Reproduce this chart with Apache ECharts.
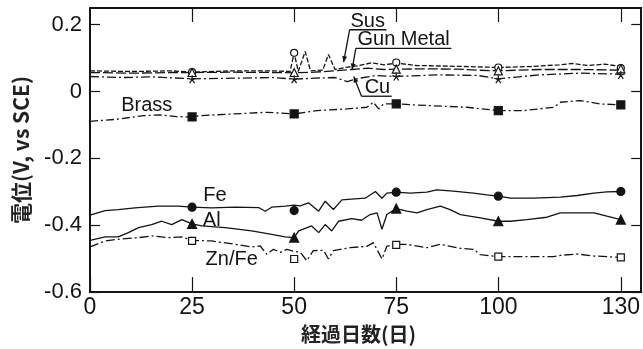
<!DOCTYPE html>
<html><head><meta charset="utf-8">
<script src="https://cdn.jsdelivr.net/npm/echarts@6/dist/echarts.min.js"></script>
<style>html,body{margin:0;padding:0;background:#fff}#c{width:643px;height:349px}</style>
</head><body><div id="c"></div>
<script>
// ---- data (day, potential V vs SCE) ----
const xTickVals = [0, 25, 50, 75, 100, 130];
const yTickVals = [-0.6, -0.4, -0.2, 0, 0.2];
const markDays = [25, 50, 75, 100, 130];

const susDays = [0, 10, 20, 25, 35, 45, 49, 50, 51, 52.7, 54, 57, 58.4, 60, 62.5, 66, 69, 72, 75, 80, 88, 95, 100, 108, 115, 118, 122, 126, 130];
const susVals = [0.062, 0.060, 0.062, 0.058, 0.062, 0.062, 0.060, 0.116, 0.060, 0.120, 0.062, 0.064, 0.111, 0.066, 0.072, 0.078, 0.086, 0.080, 0.085, 0.078, 0.076, 0.074, 0.072, 0.075, 0.080, 0.084, 0.078, 0.082, 0.075];
const susMarks = [0.058, 0.116, 0.087, 0.072, 0.070];

const gunDays = [0, 10, 20, 25, 35, 45, 50, 55, 60, 64, 68, 72, 75, 82, 90, 95, 100, 110, 120, 130];
const gunVals = [0.057, 0.055, 0.057, 0.057, 0.058, 0.057, 0.056, 0.058, 0.062, 0.066, 0.070, 0.066, 0.067, 0.068, 0.067, 0.064, 0.062, 0.066, 0.066, 0.064];
const gunMarks = [0.057, 0.057, 0.067, 0.062, 0.068];

const cuDays = [0, 8, 15, 25, 35, 45, 50, 55, 60, 63, 66, 70, 75, 85, 95, 100, 110, 120, 130];
const cuVals = [0.045, 0.042, 0.044, 0.038, 0.040, 0.042, 0.037, 0.040, 0.042, 0.030, 0.040, 0.048, 0.045, 0.050, 0.048, 0.038, 0.050, 0.055, 0.052];
const cuMarks = [0.037, 0.037, 0.045, 0.037, 0.050];

const brDays = [0, 6.5, 13.1, 17.2, 21.2, 25, 27, 35.1, 43.3, 50, 55.5, 62.9, 67.8, 69.4, 70.7, 71.9, 75, 83, 92.3, 100, 106.2, 113.6, 115.2, 120.1, 125, 130];
const brVals = [-0.089, -0.083, -0.072, -0.070, -0.075, -0.076, -0.072, -0.067, -0.062, -0.067, -0.057, -0.052, -0.047, -0.032, -0.052, -0.037, -0.037, -0.042, -0.047, -0.057, -0.057, -0.047, -0.032, -0.027, -0.037, -0.040];
const brMarks = [-0.076, -0.067, -0.037, -0.057, -0.040];

const feDays = [0, 3.7, 6.9, 11, 16.7, 21.6, 25, 29.8, 35.5, 41.3, 42.9, 44.5, 47.8, 50, 51.5, 53.5, 56, 57.6, 59.6, 61.7, 64, 67.4, 69.9, 71.5, 72.7, 75, 78.4, 82.5, 84.9, 89, 93.9, 97.2, 100, 103, 108.7, 115.2, 119.3, 123.4, 126.6, 130];
const feVals = [-0.370, -0.356, -0.353, -0.348, -0.343, -0.343, -0.346, -0.348, -0.346, -0.347, -0.358, -0.346, -0.343, -0.340, -0.342, -0.333, -0.358, -0.328, -0.353, -0.324, -0.322, -0.319, -0.299, -0.319, -0.304, -0.301, -0.304, -0.301, -0.294, -0.298, -0.304, -0.309, -0.313, -0.319, -0.319, -0.316, -0.311, -0.304, -0.300, -0.299];
const feMarks = [-0.346, -0.356, -0.301, -0.313, -0.299];

const alDays = [0, 3.7, 6.9, 9.4, 11.9, 15.1, 17.6, 20, 22.5, 25, 27.4, 33.1, 39.6, 44.5, 47.8, 50, 51.1, 54.3, 56, 57.6, 59.2, 60.9, 64.1, 66.5, 68.6, 70.3, 71.5, 72.7, 75, 77.6, 80.1, 82.5, 85.8, 88.2, 90.7, 95.6, 100, 103, 107, 111.9, 115.2, 123.4, 126.6, 130];
const alVals = [-0.445, -0.435, -0.435, -0.422, -0.407, -0.398, -0.388, -0.398, -0.383, -0.396, -0.402, -0.407, -0.417, -0.427, -0.435, -0.437, -0.417, -0.402, -0.422, -0.398, -0.417, -0.388, -0.380, -0.385, -0.368, -0.363, -0.412, -0.368, -0.350, -0.358, -0.363, -0.353, -0.343, -0.353, -0.368, -0.378, -0.388, -0.388, -0.383, -0.376, -0.363, -0.363, -0.373, -0.383];
const alMarks = [-0.396, -0.437, -0.350, -0.388, -0.383];

const znDays = [0, 3.7, 6.9, 11.9, 15.1, 19.2, 22.5, 25, 29.8, 35.5, 39.6, 41.7, 43.3, 44.9, 46.6, 48.2, 50, 51.5, 53.1, 54.7, 57.2, 58.4, 59.6, 63.7, 67.8, 69.4, 71.5, 72.7, 75, 77.6, 82.5, 85.8, 90.7, 93.9, 95.6, 100, 107, 113.5, 115.2, 119.3, 123.4, 130];
const znVals = [-0.465, -0.447, -0.442, -0.437, -0.432, -0.437, -0.435, -0.445, -0.447, -0.457, -0.465, -0.462, -0.487, -0.472, -0.481, -0.472, -0.478, -0.481, -0.506, -0.476, -0.475, -0.501, -0.476, -0.467, -0.463, -0.452, -0.501, -0.463, -0.457, -0.457, -0.467, -0.457, -0.469, -0.472, -0.488, -0.494, -0.494, -0.494, -0.490, -0.486, -0.492, -0.496];
const znMarks = [-0.447, -0.501, -0.459, -0.494, -0.496];

const xName = '経過日数(日)';
const yName = '電位(V, vs SCE)';
// label anchors in data space [day, V]
const labels = [
  {t: 'Sus', at: [68.0, 0.210]},
  {t: 'Gun Metal', at: [76.8, 0.155]},
  {t: 'Cu', at: [70.4, 0.012]},
  {t: 'Brass', at: [13.9, -0.043]},
  {t: 'Fe', at: [30.6, -0.310]},
  {t: 'Al', at: [29.8, -0.387]},
  {t: 'Zn/Fe', at: [34.7, -0.502]}
];
const underlines = [[[63.6, 0.185], [72.6, 0.185]], [[65.1, 0.129], [88.5, 0.129]], [[66.5, -0.014], [73.9, -0.014]]];
const leaders = [[[63.6, 0.185], [62.1, 0.088]], [[65.1, 0.129], [64.2, 0.066]], [[66.5, -0.014], [64.6, 0.045]]];

// ---- chart ----
const INK = '#141414';
const zip = (a, b) => a.map((v, i) => [v, b[i]]);
const star = 'path://M0,-10L0,0M0,0L9.5,-3.1M0,0L5.9,8.1M0,0L-5.9,8.1M0,0L-9.5,-3.1';

function lineSeries(name, days, vals, dash) {
  return {type: 'line', name: name, data: zip(days, vals), showSymbol: false, symbol: 'none', smooth: false,
    lineStyle: {color: INK, width: 1.3, type: dash}, z: 2, silent: true, animation: false};
}
function markSeries(name, vals, symbol, size, filled) {
  return {type: 'scatter', name: name + ' pts', data: zip(markDays, vals), symbol: symbol, symbolSize: size,
    itemStyle: {color: filled ? INK : '#fff', borderColor: INK, borderWidth: 1.2, opacity: 1}, z: 5, silent: true, animation: false};
}

const chart = echarts.init(document.getElementById('c'), null, {renderer: 'canvas'});
const axisLine = {show: true, onZero: false, lineStyle: {color: INK, width: 2}};
chart.setOption({
  animation: false,
  backgroundColor: '#fff',
  grid: {left: 90, right: 1, top: 8, bottom: 54},
  xAxis: [
    {type: 'value', min: 0, max: 135, position: 'bottom', axisLine: axisLine,
      axisTick: {inside: true, length: 15, customValues: xTickVals, lineStyle: {color: INK, width: 1.2}},
      axisLabel: {customValues: xTickVals, fontFamily: 'Liberation Sans Narrow, Liberation Sans, Arial', fontSize: 23, color: INK, margin: 4},
      splitLine: {show: false},
      name: xName, nameLocation: 'middle', nameGap: 27,
      nameTextStyle: {fontFamily: 'Noto Sans CJK JP', fontSize: 20, fontWeight: 'bold', color: '#222', padding: [0, 14, 0, 0]}},
    {type: 'value', min: 0, max: 135, position: 'top', axisLine: axisLine,
      axisTick: {inside: true, length: 14, customValues: [25, 50, 75, 100, 130], lineStyle: {color: INK, width: 1.2}},
      axisLabel: {show: false}, splitLine: {show: false}}
  ],
  yAxis: [
    {type: 'value', min: -0.6, max: 0.25, position: 'left', axisLine: axisLine,
      axisTick: {inside: true, length: 10, customValues: yTickVals, lineStyle: {color: INK, width: 1.2}},
      axisLabel: {customValues: yTickVals, fontFamily: 'Liberation Sans, Arial', fontSize: 22, color: INK, margin: 8},
      splitLine: {show: false},
      name: yName, nameLocation: 'middle', nameGap: 58,
      nameTextStyle: {fontFamily: 'Noto Sans CJK JP', fontSize: 21, fontWeight: 'bold', color: '#222'}},
    {type: 'value', min: -0.6, max: 0.25, position: 'right', axisLine: axisLine,
      axisTick: {inside: true, length: 10, customValues: yTickVals, lineStyle: {color: INK, width: 1.2}},
      axisLabel: {show: false}, splitLine: {show: false}}
  ],
  series: [
    lineSeries('Sus', susDays, susVals, [5, 2]),
    lineSeries('Gun Metal', gunDays, gunVals, [10, 3]),
    lineSeries('Cu', cuDays, cuVals, [9, 3, 2, 3]),
    lineSeries('Brass', brDays, brVals, [8, 3, 2, 3]),
    lineSeries('Fe', feDays, feVals, 'solid'),
    lineSeries('Al', alDays, alVals, 'solid'),
    lineSeries('Zn/Fe', znDays, znVals, [9, 3, 2, 3]),
    markSeries('Sus', susMarks, 'circle', 7, false),
    markSeries('Gun Metal', gunMarks, 'triangle', 8, false),
    markSeries('Cu', cuMarks, star, 8, true),
    markSeries('Brass', brMarks, 'rect', 8, true),
    markSeries('Fe', feMarks, 'circle', 8, true),
    markSeries('Al', alMarks, 'triangle', 9, true),
    markSeries('Zn/Fe', znMarks, 'rect', 7, false)
  ]
});

const P = (p) => chart.convertToPixel({xAxisIndex: 0, yAxisIndex: 0}, p);
const g = [];
labels.forEach(l => {
  const p = P(l.at);
  g.push({type: 'text', silent: true, z: 10, style: {text: l.t, x: p[0], y: p[1], fill: INK,
    font: '20px "Liberation Sans", Arial, sans-serif', textAlign: 'center', textVerticalAlign: 'middle', align: 'center', verticalAlign: 'middle'}});
});
underlines.forEach(s => {
  const a = P(s[0]), b = P(s[1]);
  g.push({type: 'line', silent: true, z: 10, shape: {x1: a[0], y1: a[1], x2: b[0], y2: b[1]}, style: {stroke: INK, lineWidth: 1.3}});
});
leaders.forEach(s => {
  const a = P(s[0]), b = P(s[1]);
  g.push({type: 'line', silent: true, z: 10, shape: {x1: a[0], y1: a[1], x2: b[0], y2: b[1]}, style: {stroke: INK, lineWidth: 1.3}});
  // small arrowhead at the end of each leader
  const dx = b[0] - a[0], dy = b[1] - a[1], L = Math.hypot(dx, dy), ux = dx / L, uy = dy / L;
  const h = 6, w = 2.5;
  g.push({type: 'polygon', silent: true, z: 10, shape: {points: [
    [b[0], b[1]],
    [b[0] - ux * h - uy * w, b[1] - uy * h + ux * w],
    [b[0] - ux * h + uy * w, b[1] - uy * h - ux * w]]}, style: {fill: INK}});
});
chart.setOption({graphic: g});
</script>
</body></html>
